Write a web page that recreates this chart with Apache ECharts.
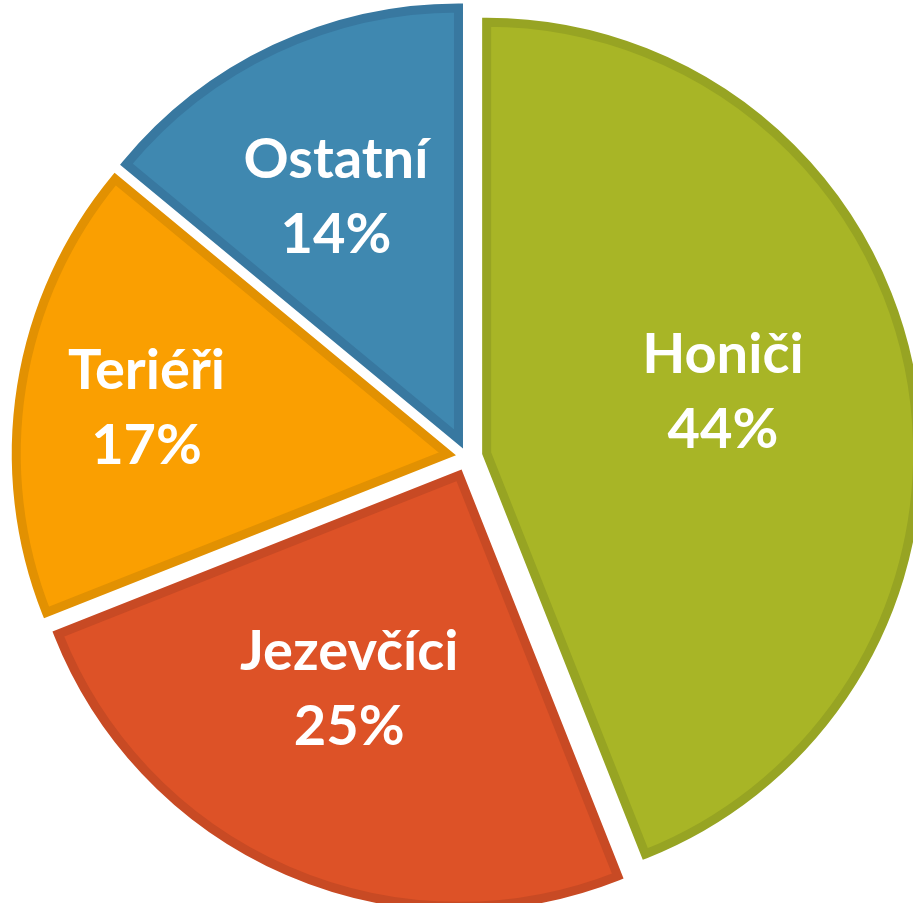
<!DOCTYPE html>
<html>
<head>
<meta charset="utf-8">
<script src="https://cdn.jsdelivr.net/npm/echarts@6/dist/echarts.min.js"></script>
<style>
  html, body { margin: 0; padding: 0; background: #fff; }
  #pie-chart { width: 913px; height: 903px; }
</style>
</head>
<body>
<div id="pie-chart"></div>
<script>
// plemena psů - podíl
const categories = ['Honiči', 'Jezevčíci', 'Teriéři', 'Ostatní']
const values = [44, 25, 17, 14]
const fillColors = ['#a8b526', '#dd5227', '#fa9f01', '#3f88b0']
const borderColors = ['#97a423', '#c84a24', '#e29102', '#3878a0']
// small label nudges so they sit like in the original
const labelShift = [[-28, -10], [-3, -33], [-35, -3], [-8, 2]]

const chart = echarts.init(document.getElementById('pie-chart'))

const sliceData = categories.map((name, i) => ({
  name: name,
  value: values[i],
  selected: true,
  itemStyle: {
    color: fillColors[i],
    borderColor: borderColors[i]
  }
}))

const labelData = categories.map((name, i) => ({
  name: name,
  value: values[i],
  selected: true
}))

chart.setOption({
  animation: false,
  series: [
    {
      type: 'pie',
      center: [467, 457],
      radius: [0, 431],
      startAngle: 90,
      selectedMode: 'multiple',
      selectedOffset: 20,
      silent: true,
      itemStyle: {
        borderWidth: 9,
        borderJoin: 'miter'
      },
      label: { show: false },
      labelLine: { show: false },
      emphasis: { disabled: true },
      data: sliceData
    },
    {
      type: 'pie',
      center: [467, 457],
      radius: [110, 436],
      startAngle: 90,
      selectedMode: 'multiple',
      selectedOffset: 13,
      silent: true,
      itemStyle: { color: 'transparent' },
      label: {
        show: true,
        position: 'inside',
        formatter: '{b}\n{c}%',
        color: '#fff',
        fontFamily: 'Lato',
        fontWeight: 'bold',
        fontSize: 56,
        lineHeight: 75
      },
      labelLayout: params => ({
        dx: labelShift[params.dataIndex][0],
        dy: labelShift[params.dataIndex][1]
      }),
      labelLine: { show: false },
      emphasis: { disabled: true },
      data: labelData
    }
  ]
})
</script>
</body>
</html>
